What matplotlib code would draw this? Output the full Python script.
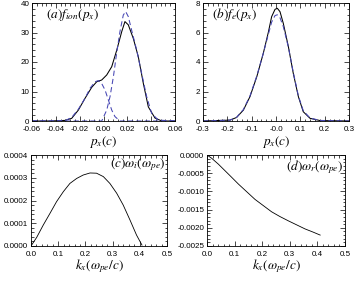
import matplotlib
matplotlib.use("Agg")
import matplotlib.pyplot as plt
from matplotlib.ticker import AutoMinorLocator

plt.rcParams['font.family'] = ['Liberation Sans', 'DejaVu Sans']
plt.rcParams['mathtext.fontset'] = 'stix'

# (a) ion distribution
pa_x = [-0.06, -0.045, -0.0323, -0.0267, -0.0211, -0.0155, -0.0099, -0.0057, -0.0015,
        0.0027, 0.0069, 0.0111, 0.0153, 0.018, 0.0208, 0.025, 0.0292, 0.0334, 0.0376,
        0.0432, 0.049, 0.06]
fion = [0, 0, 0.2, 0.9, 3.7, 7.7, 11.4, 13.3, 13.9, 15.6, 18.4, 24.0, 30.3, 33.7, 32.6,
        28.0, 21.8, 12.8, 4.8, 1.0, 0, 0]
# two fitted components (dashed)
fit1_x = [-0.06, -0.045, -0.0323, -0.0267, -0.0211, -0.0155, -0.0113, -0.0071, -0.0043,
          -0.0015, 0.0013, 0.0041, 0.0069, 0.0096, 0.0138, 0.06]
fit1 = [0, 0, 0.1, 1.2, 4.0, 7.7, 11.1, 13.3, 13.7, 12.7, 10.5, 7.1, 3.7, 1.5, 0, 0]
fit2_x = [-0.06, -0.0015, 0.0027, 0.0055, 0.0083, 0.011, 0.0138, 0.0166, 0.0186, 0.0208,
          0.0236, 0.0278, 0.032, 0.0362, 0.0404, 0.046, 0.06]
fit2 = [0, 0, 3.7, 8.3, 15.0, 22.9, 30.3, 35.9, 37.1, 35.4, 30.8, 24.1, 16.2, 8.3, 2.6,
        0.3, 0]

# (b) electron distribution
pb_x = [-0.3, -0.189, -0.162, -0.134, -0.107, -0.079, -0.052, -0.031, -0.018, -0.004,
        0.0055, 0.0165, 0.03, 0.051, 0.071, 0.092, 0.112, 0.14, 0.181, 0.3]
fe = [0, 0.06, 0.24, 0.74, 1.65, 3.0, 4.6, 6.05, 7.07, 7.57, 7.64, 7.41, 6.62, 5.03,
      3.23, 1.65, 0.63, 0.18, 0.03, 0]
fe_fit = [0, 0.06, 0.25, 0.78, 1.7, 3.05, 4.6, 5.9, 6.7, 7.15, 7.2, 7.0, 6.4, 5.0, 3.3,
          1.7, 0.7, 0.2, 0.04, 0]

# (c) growth rate, (d) real frequency
kx_c = [0, 0.021, 0.045, 0.07, 0.094, 0.119, 0.143, 0.168, 0.192, 0.217, 0.241, 0.266,
        0.29, 0.315, 0.339, 0.364, 0.388, 0.408]
wi = [0, 0.38e-4, 0.92e-4, 1.44e-4, 1.95e-4, 2.39e-4, 2.75e-4, 2.97e-4, 3.12e-4,
      3.21e-4, 3.2e-4, 3.05e-4, 2.75e-4, 2.32e-4, 1.8e-4, 1.14e-4, 0.48e-4, 0.04e-4]
kx_d = [0, 0.017, 0.041, 0.065, 0.089, 0.114, 0.144, 0.174, 0.204, 0.234, 0.264, 0.295,
        0.325, 0.355, 0.385, 0.41]
wr = [0, -0.09e-3, -0.25e-3, -0.43e-3, -0.61e-3, -0.80e-3, -1.01e-3, -1.22e-3, -1.39e-3,
      -1.56e-3, -1.69e-3, -1.81e-3, -1.92e-3, -2.03e-3, -2.12e-3, -2.2e-3]

xt_a = [-0.06, -0.04, -0.02, 0.0, 0.02, 0.04, 0.06]
xl_a = ['-0.06', '-0.04', '-0.02', '0.00', '0.02', '0.04', '0.06']
xt_b = [-0.3, -0.2, -0.1, 0.0, 0.1, 0.2, 0.3]
xl_b = ['-0.3', '-0.2', '-0.1', '-0.0', '0.1', '0.2', '0.3']
xt_k = [0.0, 0.1, 0.2, 0.3, 0.4, 0.5]
yt_c = [0.0, 0.0001, 0.0002, 0.0003, 0.0004]
yt_d = [0.0, -0.0005, -0.001, -0.0015, -0.002, -0.0025]

W, H = 355, 281
fig = plt.figure(figsize=(W / 100, H / 100), dpi=100)


def box(l, t, r, b):
    return fig.add_axes([l / W, 1 - b / H, (r - l) / W, (b - t) / H])


def style(ax):
    ax.tick_params(which='both', direction='in', top=True, right=True, labelsize=5.8,
                   width=0.5)
    ax.tick_params(axis='x', pad=3.8)
    ax.tick_params(axis='y', pad=2)
    ax.tick_params(which='major', length=3.5)
    ax.tick_params(which='minor', length=1.8)
    ax.xaxis.set_minor_locator(AutoMinorLocator(5))
    ax.yaxis.set_minor_locator(AutoMinorLocator(5))
    for s in ax.spines.values():
        s.set_linewidth(0.6)


blue = '#4646b4'
fs = 9.5

ax = box(32, 3, 175, 121)
ax.plot(pa_x, fion, color='k', lw=0.75)
ax.plot(fit1_x, fit1, color=blue, lw=0.75, ls=(0, (5, 3)))
ax.plot(fit2_x, fit2, color=blue, lw=0.75, ls=(0, (5, 3)))
ax.set_xlim(-0.06, 0.06)
ax.set_ylim(0, 40)
ax.set_xticks(xt_a)
ax.set_xticklabels(xl_a)
ax.set_yticks([0, 10, 20, 30, 40])
style(ax)
ax.set_xlabel(r'$p_x(c)$', fontsize=fs, labelpad=0.5)
ax.text(0.1, 0.9, r'$(a)f_{ion}(p_x)$', transform=ax.transAxes, fontsize=fs, va='center')

ax = box(203, 3, 349, 121)
ax.plot(pb_x, fe, color='k', lw=0.75)
ax.plot(pb_x, fe_fit, color=blue, lw=0.75, ls=(0, (5, 3)))
ax.set_xlim(-0.3, 0.3)
ax.set_ylim(0, 8)
ax.set_xticks(xt_b)
ax.set_xticklabels(xl_b)
ax.set_yticks([0, 2, 4, 6, 8])
style(ax)
ax.set_xlabel(r'$p_x(c)$', fontsize=fs, labelpad=0.5)
ax.text(0.06, 0.9, r'$(b)f_e(p_x)$', transform=ax.transAxes, fontsize=fs, va='center')

ax = box(31, 155, 167, 246)
ax.plot(kx_c, wi, color='k', lw=0.6)
ax.set_xlim(0, 0.5)
ax.set_ylim(0, 0.0004)
ax.set_xticks(xt_k)
ax.set_yticks(yt_c)
ax.set_yticklabels(['%.4f' % v for v in yt_c])
style(ax)
ax.set_xlabel(r'$k_x(\omega_{pe}/c)$', fontsize=fs, labelpad=-1)
ax.text(0.99, 0.89, r'$(c)\omega_i(\omega_{pe})$', transform=ax.transAxes, fontsize=fs,
        va='center', ha='right')

ax = box(207, 155, 345, 246)
ax.plot(kx_d, wr, color='k', lw=0.6)
ax.set_xlim(0, 0.5)
ax.set_ylim(-0.0025, 0)
ax.set_xticks(xt_k)
ax.set_yticks(yt_d)
ax.set_yticklabels(['%.4f' % v for v in yt_d])
style(ax)
ax.set_xlabel(r'$k_x(\omega_{pe}/c)$', fontsize=fs, labelpad=-1)
ax.text(0.99, 0.87, r'$(d)\omega_r(\omega_{pe})$', transform=ax.transAxes, fontsize=fs,
        va='center', ha='right')

fig.savefig('out.png', dpi=100)
